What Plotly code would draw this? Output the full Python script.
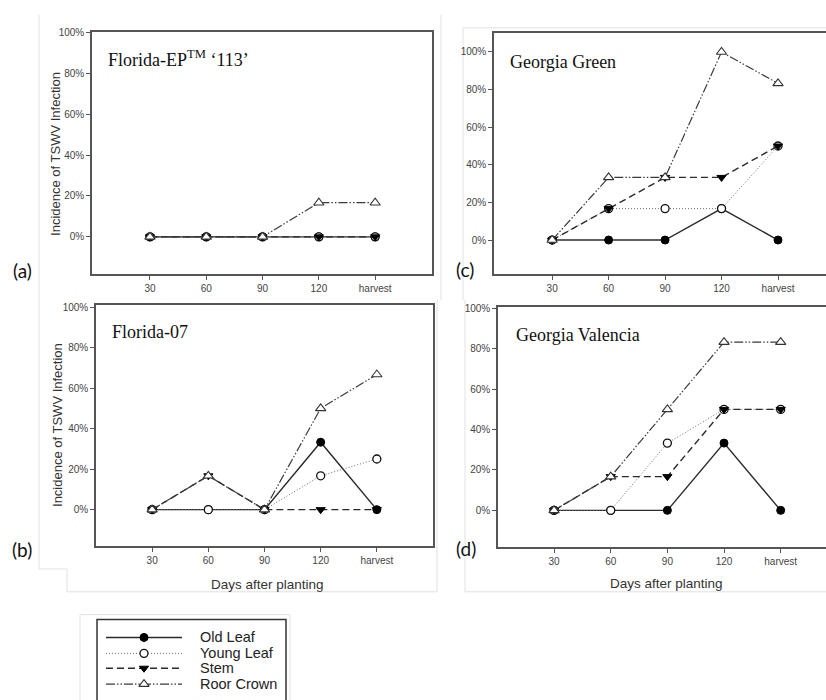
import plotly.graph_objects as go

# ---------------- data ----------------
DAYS = ["30", "60", "90", "120", "harvest"]
SERIES = ["Old Leaf", "Young Leaf", "Stem", "Roor Crown"]
Y_TICKS = [0, 20, 40, 60, 80, 100]
Y_TICKTEXT = ["0%", "20%", "40%", "60%", "80%", "100%"]

# (a) Florida-EP(TM) '113'
A_OLD = [0, 0, 0, 0, 0]
A_YOUNG = [0, 0, 0, 0, 0]
A_STEM = [0, 0, 0, 0, 0]
A_ROOT = [0, 0, 0, 16.7, 16.7]

# (b) Florida-07
B_OLD = [0, 0, 0, 33.3, 0]
B_YOUNG = [0, 0, 0, 16.7, 25]
B_STEM = [0, 16.7, 0, 0, 0]
B_ROOT = [0, 16.7, 0, 50, 66.7]

# (c) Georgia Green
C_OLD = [0, 0, 0, 16.7, 0]
C_YOUNG = [0, 16.7, 16.7, 16.7, 50]
C_STEM = [0, 16.7, 33.3, 33.3, 50]
C_ROOT = [0, 33.3, 33.3, 100, 83.3]

# (d) Georgia Valencia
D_OLD = [0, 0, 0, 33.3, 0]
D_YOUNG = [0, 0, 33.3, 50, 50]
D_STEM = [0, 16.7, 16.7, 50, 50]
D_ROOT = [0, 16.7, 50, 83.3, 83.3]

# ---------------- layout helpers ----------------
W, H = 826, 700


def fx(px):
    return px / W


def fy(py):
    return 1 - py / H


STYLES = {
    "Old Leaf": dict(
        line=dict(color="#2b2b2b", width=1.4, dash="solid"),
        marker=dict(symbol="circle", size=8, color="#000000",
                    line=dict(color="#000000", width=1)),
    ),
    "Young Leaf": dict(
        line=dict(color="#6f6f6f", width=1, dash="1px,2px"),
        marker=dict(symbol="circle", size=8, color="white",
                    line=dict(color="#111111", width=1.3)),
    ),
    "Stem": dict(
        line=dict(color="#2b2b2b", width=1.4, dash="7px,4px"),
        marker=dict(symbol="triangle-down", size=8, color="#000000",
                    line=dict(color="#000000", width=1)),
    ),
    "Roor Crown": dict(
        line=dict(color="#3a3a3a", width=1.2, dash="9px,2px,1.5px,2px,1.5px,2px"),
        marker=dict(symbol="triangle-up", size=9, color="white",
                    line=dict(color="#333333", width=1.1)),
    ),
}

PANELS = [
    dict(key="", data=[A_OLD, A_YOUNG, A_STEM, A_ROOT],
         xdom=(92, 432), ydom=(27, 271), xr=[-1.03, 5.01], yr=[-18.2, 100.3], mirror_y=True),
    dict(key="2", data=[B_OLD, B_YOUNG, B_STEM, B_ROOT],
         xdom=(96, 433), ydom=(302, 545), xr=[-1.0, 5.0], yr=[-18.0, 101.1], mirror_y=True),
    dict(key="3", data=[C_OLD, C_YOUNG, C_STEM, C_ROOT],
         xdom=(494, 826), ydom=(28, 271), xr=[-1.03, 4.85], yr=[-18.1, 110.2], mirror_y=False),
    dict(key="4", data=[D_OLD, D_YOUNG, D_STEM, D_ROOT],
         xdom=(498, 826), ydom=(304, 546), xr=[-0.99, 4.80], yr=[-18.2, 100.8], mirror_y=False),
]

fig = go.Figure()
layout = {}
tick_font = dict(family="Liberation Sans, Arial, sans-serif", size=10, color="#444444")
axis_col = "#555555"

for p in PANELS:
    k = p["key"]
    xa = "x" + k
    ya = "y" + k
    for name, vals in zip(SERIES, p["data"]):
        st = STYLES[name]
        fig.add_trace(go.Scatter(
            x=DAYS, y=vals, mode="lines+markers", name=name,
            line=st["line"], marker=st["marker"], showlegend=False,
            xaxis=xa, yaxis=ya, cliponaxis=False,
        ))
    layout["xaxis" + k] = dict(
        domain=[fx(p["xdom"][0]), fx(p["xdom"][1])], anchor=ya,
        type="category", categoryorder="array", categoryarray=DAYS,
        range=p["xr"], showline=True, linecolor=axis_col, linewidth=1.5,
        mirror=True, ticks="outside", ticklen=4, tickwidth=1, tickcolor=axis_col,
        showgrid=False, zeroline=False, tickfont=tick_font,
    )
    layout["yaxis" + k] = dict(
        domain=[fy(p["ydom"][1]), fy(p["ydom"][0])], anchor=xa,
        range=p["yr"], tickmode="array", tickvals=Y_TICKS, ticktext=Y_TICKTEXT,
        showline=True, linecolor=axis_col, linewidth=1.5, mirror=p["mirror_y"],
        ticks="outside", ticklen=4, tickwidth=1, tickcolor=axis_col,
        showgrid=False, zeroline=False, tickfont=tick_font,
    )

# ---------------- hand-drawn legend ----------------
LEG_ROWS = [637, 653, 668, 684]
LEG_LINE = [106, 144, 182]
LEG_BOX = (97, 619, 286, 700)
for name, ry in zip(SERIES, LEG_ROWS):
    st = STYLES[name]
    fig.add_trace(go.Scatter(
        x=[LEG_LINE[0], LEG_LINE[2]], y=[ry, ry], mode="lines", line=st["line"],
        showlegend=False, xaxis="x5", yaxis="y5", hoverinfo="skip"))
    fig.add_trace(go.Scatter(
        x=[LEG_LINE[1]], y=[ry], mode="markers", marker=st["marker"],
        showlegend=False, xaxis="x5", yaxis="y5", hoverinfo="skip"))

layout["xaxis5"] = dict(domain=[fx(LEG_BOX[0]), fx(LEG_BOX[2])], range=[LEG_BOX[0], LEG_BOX[2]],
                        anchor="y5", visible=False, fixedrange=True)
layout["yaxis5"] = dict(domain=[fy(LEG_BOX[3]), fy(LEG_BOX[1])], range=[LEG_BOX[3], LEG_BOX[1]],
                        anchor="x5", visible=False, fixedrange=True)

annotations = []
for name, ry in zip(SERIES, LEG_ROWS):
    annotations.append(dict(
        text=name, x=fx(198), y=fy(ry), xref="paper", yref="paper",
        xanchor="left", yanchor="middle", showarrow=False,
        font=dict(family="Liberation Sans, Arial, sans-serif", size=14.5, color="#222222")))

# panel titles
serif = dict(family="Liberation Serif, Times New Roman, serif", size=18, color="#111111")
TITLES = [
    ("Florida-EP<sup>TM</sup> \u2018113\u2019", 106, 54),
    ("Georgia Green", 508, 57),
    ("Florida-07", 110, 329),
    ("Georgia Valencia", 514, 332),
]
for t, x, y in TITLES:
    annotations.append(dict(text=t, x=fx(x), y=fy(y), xref="paper", yref="paper",
                            xanchor="left", yanchor="middle", showarrow=False, font=serif))

# axis titles
sans = "Liberation Sans, Arial, sans-serif"
for x, y in [(56, 150), (58, 423)]:
    annotations.append(dict(text="Incidence of TSWV Infection", x=fx(x), y=fy(y),
                            xref="paper", yref="paper", textangle=-90, showarrow=False,
                            xanchor="center", yanchor="middle",
                            font=dict(family=sans, size=13, color="#333333")))
for x, y in [(267, 584), (666, 583)]:
    annotations.append(dict(text="Days after planting", x=fx(x), y=fy(y),
                            xref="paper", yref="paper", showarrow=False,
                            xanchor="center", yanchor="middle",
                            font=dict(family=sans, size=13.5, color="#333333")))

# panel letters
for t, x, y in [("(a)", 22, 267), ("(b)", 22, 548), ("(c)", 465, 266), ("(d)", 466, 547)]:
    annotations.append(dict(text=t, x=fx(x), y=fy(y), xref="paper", yref="paper",
                            showarrow=False, xanchor="center", yanchor="middle",
                            font=dict(family="Lato, Liberation Sans, sans-serif", size=19, color="#111111")))

# ---------------- decorative frames ----------------
faint = dict(color="#e2e2e2", width=1)
SEGMENTS = [
    (39, 10, 39, 568), (39, 568, 67, 568), (67, 568, 67, 591), (67, 591, 437, 591),
    (437, 297, 437, 591), (441, 10, 441, 297), (463, 23, 463, 297), (463, 23, 826, 23),
    (465, 297, 465, 591), (465, 591, 826, 591),
    (80, 614, 80, 700), (80, 614, 290, 614), (290, 614, 290, 700),
]
shapes = []
for x0, y0, x1, y1 in SEGMENTS:
    shapes.append(dict(type="line", xref="paper", yref="paper",
                       x0=fx(x0), y0=fy(y0), x1=fx(x1), y1=fy(y1), line=faint, layer="below"))
shapes.append(dict(type="rect", xref="paper", yref="paper",
                   x0=fx(97), y0=fy(705), x1=fx(286), y1=fy(619),
                   line=dict(color="#333333", width=1.5), fillcolor="rgba(0,0,0,0)"))

fig.update_layout(
    width=W, height=H, margin=dict(l=0, r=0, t=0, b=0),
    paper_bgcolor="white", plot_bgcolor="rgba(0,0,0,0)",
    showlegend=False, annotations=annotations, shapes=shapes, **layout,
)

fig.write_html(
    "out.html",
    config={"displayModeBar": False},
    post_script="document.body.style.margin='0';document.body.style.overflow='hidden';",
)
